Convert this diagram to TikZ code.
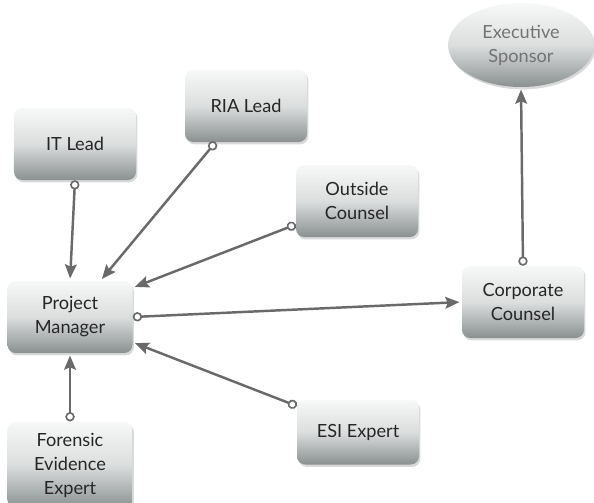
\documentclass[tikz,border=0pt]{standalone}
\usepackage{fontspec}
\setmainfont{Lato}
\usetikzlibrary{arrows.meta,shapes.geometric,shadows}
\definecolor{haut}{HTML}{F7F8F8}
\definecolor{bas}{HTML}{8A9090}
\definecolor{trait}{HTML}{6A6A6A}

\begin{document}
\begin{tikzpicture}[x=0.03cm,y=-0.03cm,
    boite/.style={rectangle,rounded corners=7pt,minimum width=3.66cm,minimum height=2.16cm,
        top color=haut,bottom color=bas,middle color=haut!75!bas,
        drop shadow={shadow xshift=1.2pt,shadow yshift=-2pt,opacity=0.3},
        text=black!85,align=center,font=\fontsize{15.5}{20.5}\selectfont},
    lien/.style={draw=trait,line width=2.1pt,
        {Circle[open,fill=white,length=8pt,width=8pt,line width=1.4pt]}-{Stealth[length=12pt,width=10pt,inset=2pt]},
        shorten >=2pt}]

\useasboundingbox (0,0) rectangle (594,502);

%les boîtes
\node[boite] (it) at (75,144) {IT Lead};
\node[boite] (ria) at (246,106) {RIA Lead};
\node[boite] (oc) at (357,201) {Outside\\Counsel};
\node[boite,minimum width=3.75cm] (pm) at (70,317) {Project\\Manager};
\node[boite] (cc) at (523,302) {Corporate\\Counsel};
\node[boite,minimum height=1.95cm] (esi) at (358,432) {ESI Expert};
\node[boite,minimum width=3.75cm,minimum height=2.6cm] (fe) at (70,465) {Forensic\\Evidence\\Expert};
%le sponsor (ellipse)
\node[boite,ellipse,minimum width=4.38cm,minimum height=2.52cm,text=black!55] (es) at (521,45) {Executive\\Sponsor};

%les liens
\draw[lien] (it.south) -- (pm.north);
\draw[lien] (ria.230) -- (pm.50);
\draw[lien] (oc.201) -- (pm.25);
\draw[lien] (pm.east) -- (cc.west);
\draw[lien] (esi.157) -- (pm.-22);
\draw[lien] (fe.north) -- (pm.south);
\draw[lien] (cc.north) -- (es.south); %vers l'exécutif

\end{tikzpicture}
\end{document}
